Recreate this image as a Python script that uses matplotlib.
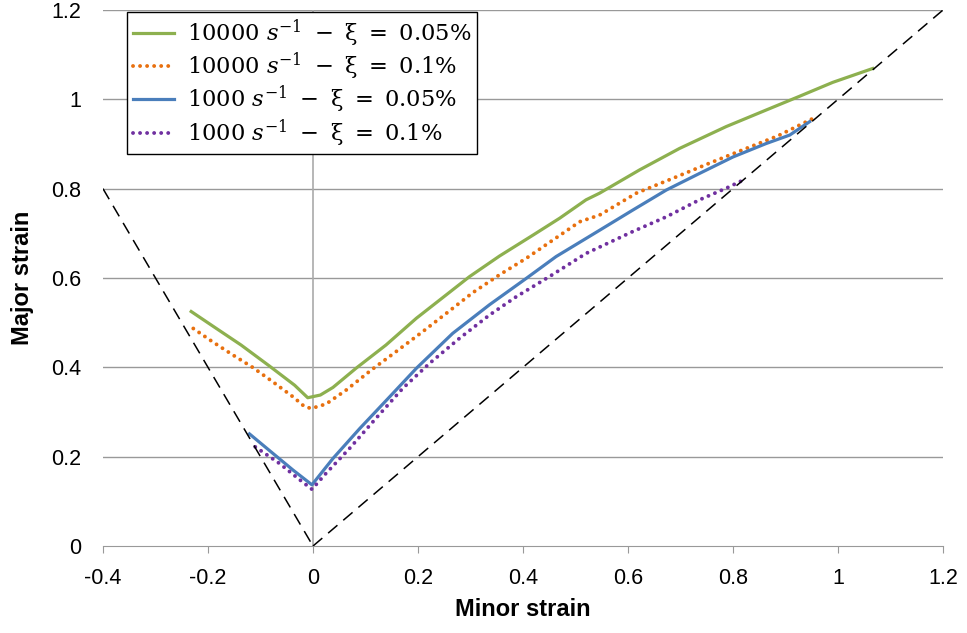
import matplotlib.pyplot as plt

plt.rcParams['font.family'] = ['Liberation Sans', 'DejaVu Sans']
plt.rcParams['mathtext.fontset'] = 'dejavuserif'
plt.rcParams['axes.unicode_minus'] = False

# curve data
green_x = [-0.232, -0.184, -0.137, -0.083, -0.035, -0.01, 0.014, 0.038, 0.082, 0.139, 0.197, 0.247, 0.298,
           0.355, 0.419, 0.47, 0.52, 0.546, 0.622, 0.698, 0.787, 0.863, 0.927, 0.99, 1.066]
green_y = [0.525, 0.487, 0.45, 0.403, 0.36, 0.332, 0.338, 0.355, 0.398, 0.45, 0.51, 0.556, 0.603,
           0.649, 0.696, 0.734, 0.775, 0.79, 0.842, 0.89, 0.939, 0.976, 1.007, 1.038, 1.069]

orange_x = [-0.228, -0.191, -0.153, -0.115, -0.077, -0.038, -0.016, -0.003, 0.025, 0.063, 0.111, 0.158, 0.209,
            0.254, 0.304, 0.355, 0.406, 0.457, 0.508, 0.546, 0.616, 0.685, 0.755, 0.825, 0.885, 0.952]
orange_y = [0.487, 0.457, 0.428, 0.4, 0.368, 0.334, 0.312, 0.308, 0.318, 0.349, 0.394, 0.435, 0.48,
            0.521, 0.567, 0.607, 0.644, 0.685, 0.726, 0.741, 0.79, 0.823, 0.857, 0.89, 0.918, 0.957]

blue_x = [-0.121, -0.077, -0.038, -0.002, 0.038, 0.089, 0.146, 0.197, 0.266, 0.336, 0.406, 0.463, 0.546,
          0.609, 0.673, 0.736, 0.8, 0.863, 0.908, 0.946]
blue_y = [0.251, 0.208, 0.17, 0.137, 0.196, 0.263, 0.334, 0.398, 0.476, 0.54, 0.599, 0.648, 0.707,
          0.752, 0.797, 0.834, 0.871, 0.901, 0.92, 0.95]

purple_x = [-0.11, -0.064, -0.026, -0.002, 0.025, 0.07, 0.12, 0.171, 0.222, 0.279, 0.336, 0.387, 0.45,
            0.52, 0.609, 0.673, 0.736, 0.787, 0.819]
purple_y = [0.222, 0.185, 0.149, 0.127, 0.163, 0.219, 0.286, 0.353, 0.409, 0.465, 0.517, 0.558, 0.603,
            0.655, 0.704, 0.737, 0.775, 0.801, 0.819]

# reference lines (plane strain limits)
ref_left_x = [-0.4, 0.0]
ref_left_y = [0.8, 0.0]
ref_right_x = [0.0, 1.2]
ref_right_y = [0.0, 1.2]

labels = [r"$10000\ s^{-1}\ -\ \mathrm{\xi}\ =\ 0.05\%$",
          r"$10000\ s^{-1}\ -\ \mathrm{\xi}\ =\ 0.1\%$",
          r"$1000\ s^{-1}\ -\ \mathrm{\xi}\ =\ 0.05\%$",
          r"$1000\ s^{-1}\ -\ \mathrm{\xi}\ =\ 0.1\%$"]

xticks = [-0.4, -0.2, 0, 0.2, 0.4, 0.6, 0.8, 1, 1.2]
yticks = [0, 0.2, 0.4, 0.6, 0.8, 1, 1.2]

fig = plt.figure(figsize=(9.67, 6.33), dpi=100)
ax = fig.add_axes([0.1065, 0.1374, 0.8687, 0.8468])

grid_c = '#999999'
for yv in yticks[1:]:
    ax.axhline(yv, color=grid_c, lw=1.0, zorder=0)
ax.axvline(0, color='#aaaaaa', lw=1.2, zorder=0)

dot = (0, (0.01, 1.8))
ax.plot(green_x, green_y, color='#8DB04F', lw=2.3, label=labels[0], zorder=3)
ax.plot(orange_x, orange_y, color='#E8700F', lw=2.8, ls=dot, dash_capstyle='round',
        label=labels[1], zorder=3)
ax.plot(blue_x, blue_y, color='#4A7EBB', lw=2.3, label=labels[2], zorder=3)
ax.plot(purple_x, purple_y, color='#7030A0', lw=2.8, ls=dot, dash_capstyle='round',
        label=labels[3], zorder=3)

ax.plot(ref_left_x, ref_left_y, color='black', lw=1.1, ls=(0, (8, 5)), zorder=4)
ax.plot(ref_right_x, ref_right_y, color='black', lw=1.1, ls=(0, (8, 5)), zorder=4)

ax.set_xlim(-0.4, 1.2)
ax.set_ylim(0, 1.2)
ax.set_xticks(xticks)
ax.set_xticklabels([f"{v:g}" for v in xticks], fontsize=15.5)
ax.set_yticks(yticks)
ax.set_yticklabels([f"{v:g}" for v in yticks], fontsize=15.5)
ax.tick_params(axis='x', length=5, color=grid_c, pad=11)
ax.tick_params(axis='y', length=0, pad=16)

for s in ['top', 'right', 'left']:
    ax.spines[s].set_visible(False)
ax.spines['bottom'].set_color(grid_c)

ax.set_xlabel("Minor strain", fontsize=17, fontweight='bold', labelpad=6)
ax.set_ylabel("Major strain", fontsize=17, fontweight='bold', labelpad=12)

leg = ax.legend(loc='upper left', bbox_to_anchor=(0.029, 0.997), fontsize=16.3,
                handlelength=1.8, handletextpad=0.6, borderpad=0.25, labelspacing=0.08,
                fancybox=False, framealpha=1, borderaxespad=0)
leg.get_frame().set_edgecolor('black')
leg.get_frame().set_linewidth(1.0)

fig.savefig("out.png", dpi=100)
